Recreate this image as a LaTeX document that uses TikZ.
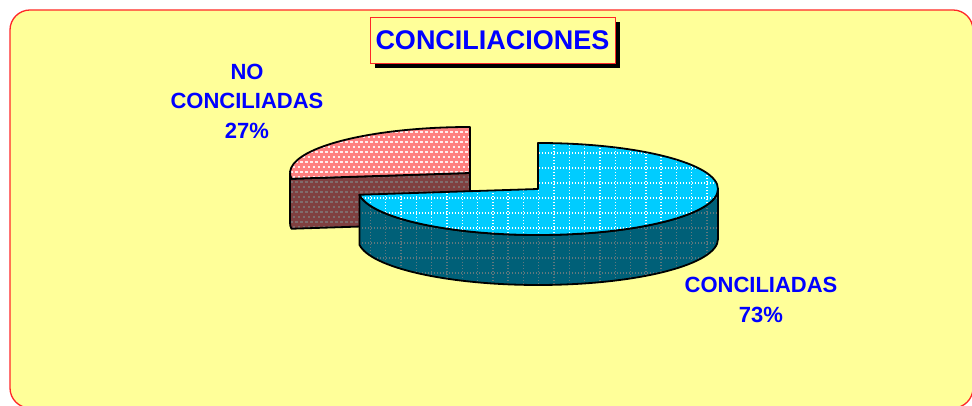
\documentclass[tikz,border=0pt]{standalone}
\usepackage{fontspec}
\setmainfont{Liberation Sans}
\usetikzlibrary{calc,shadows}
\definecolor{amarillo}{RGB}{255,255,153}
\definecolor{rojoborde}{RGB}{255,40,40}
\definecolor{cian}{RGB}{0,204,255}
\definecolor{cianosc}{RGB}{0,96,120}
\definecolor{rosa}{RGB}{255,128,128}
\definecolor{granate}{RGB}{128,64,64}
\tikzset{
  contorno/.style={draw=black, line width=1.8pt, line join=round},
  rejilla/.style={line width=1.4pt, dash pattern=on 1.4pt off 1.6pt},
  raya/.style={line width=1.3pt, dash pattern=on 2.5pt off 2.5pt},
  etiqueta/.style={text=blue, font=\fontsize{22}{29.5}\selectfont\bfseries, align=center}
}

\begin{document}
\begin{tikzpicture}[x=1pt,y=1pt]
	\useasboundingbox (0,0) rectangle (972,406);
	\fill[white] (0,0) rectangle (972,406);
	\filldraw[fill=amarillo, draw=rojoborde, line width=1.3pt, rounded corners=20pt] (10,-2) rectangle (973,396);
	\coordinate (rojo) at (470,233);
	\coordinate (cian) at (538,217);
	% sector 27%
	\filldraw[contorno, fill=granate, path picture={
		\foreach \k [evaluate=\k as \f using {2.5*mod(\k,2)}] in {0,...,13}
			\draw[raya, gray!70!granate, dash phase=\f pt] (280,{174+5*\k}) -- ++(200,0);
	}] ($(rojo)+(180:180 and 46)$) arc[start angle=180, end angle=187.2, x radius=180, y radius=46]
		-- (rojo) -- ++(0,-50) -- ($(rojo)+(187.2:180 and 46)+(0,-50)$)
		arc[start angle=187.2, end angle=180, x radius=180, y radius=46] -- cycle;
	\filldraw[contorno, fill=rosa, path picture={
		\foreach \k [evaluate=\k as \f using {2.5*mod(\k,2)}] in {0,...,13}
			\draw[raya, white!85!rosa, dash phase=\f pt] (280,{224+5*\k}) -- ++(200,0);
	}] (rojo) -- ++(0,46) arc[start angle=90, end angle=187.2, x radius=180, y radius=46] -- cycle;
	% sector 73%
	\filldraw[contorno, fill=cianosc, path picture={
		\foreach \k in {-13,...,12}
			\draw[rejilla, gray!75!cianosc] ({554+15.3*\k},110) -- ++(0,160);
		\foreach \k in {-1,...,10}
			\draw[rejilla, gray!75!cianosc] (350,{253-15*\k}) -- ++(380,0);
	}] ($(cian)+(187.2:180 and 46)$) arc[start angle=187.2, end angle=360, x radius=180, y radius=46]
		-- ++(0,-50) arc[start angle=360, end angle=187.2, x radius=180, y radius=46] -- cycle;
	\filldraw[contorno, fill=cian, path picture={
		\foreach \k in {-13,...,12}
			\draw[rejilla, white] ({554+15.3*\k},110) -- ++(0,160);
		\foreach \k in {-1,...,10}
			\draw[rejilla, white] (350,{253-15*\k}) -- ++(380,0);
	}] (cian) -- ++(0,46) arc[start angle=90, end angle=-172.8, x radius=180, y radius=46] -- cycle;
	% textos
	\node (titulo) [draw=rojoborde, line width=0.8pt, fill=amarillo, minimum width=245pt, minimum height=46pt,
		inner sep=0pt, text=blue, font=\fontsize{27}{30}\selectfont\bfseries,
		drop shadow={shadow xshift=5pt, shadow yshift=-5pt, fill=black, opacity=1}] at (492.5,366) {CONCILIACIONES};
	\node (nocon) [etiqueta] at (247,305) {NO\\CONCILIADAS\\27\%};
	\node (con) [etiqueta] at (761,106) {CONCILIADAS\\73\%};
\end{tikzpicture}
\end{document}
